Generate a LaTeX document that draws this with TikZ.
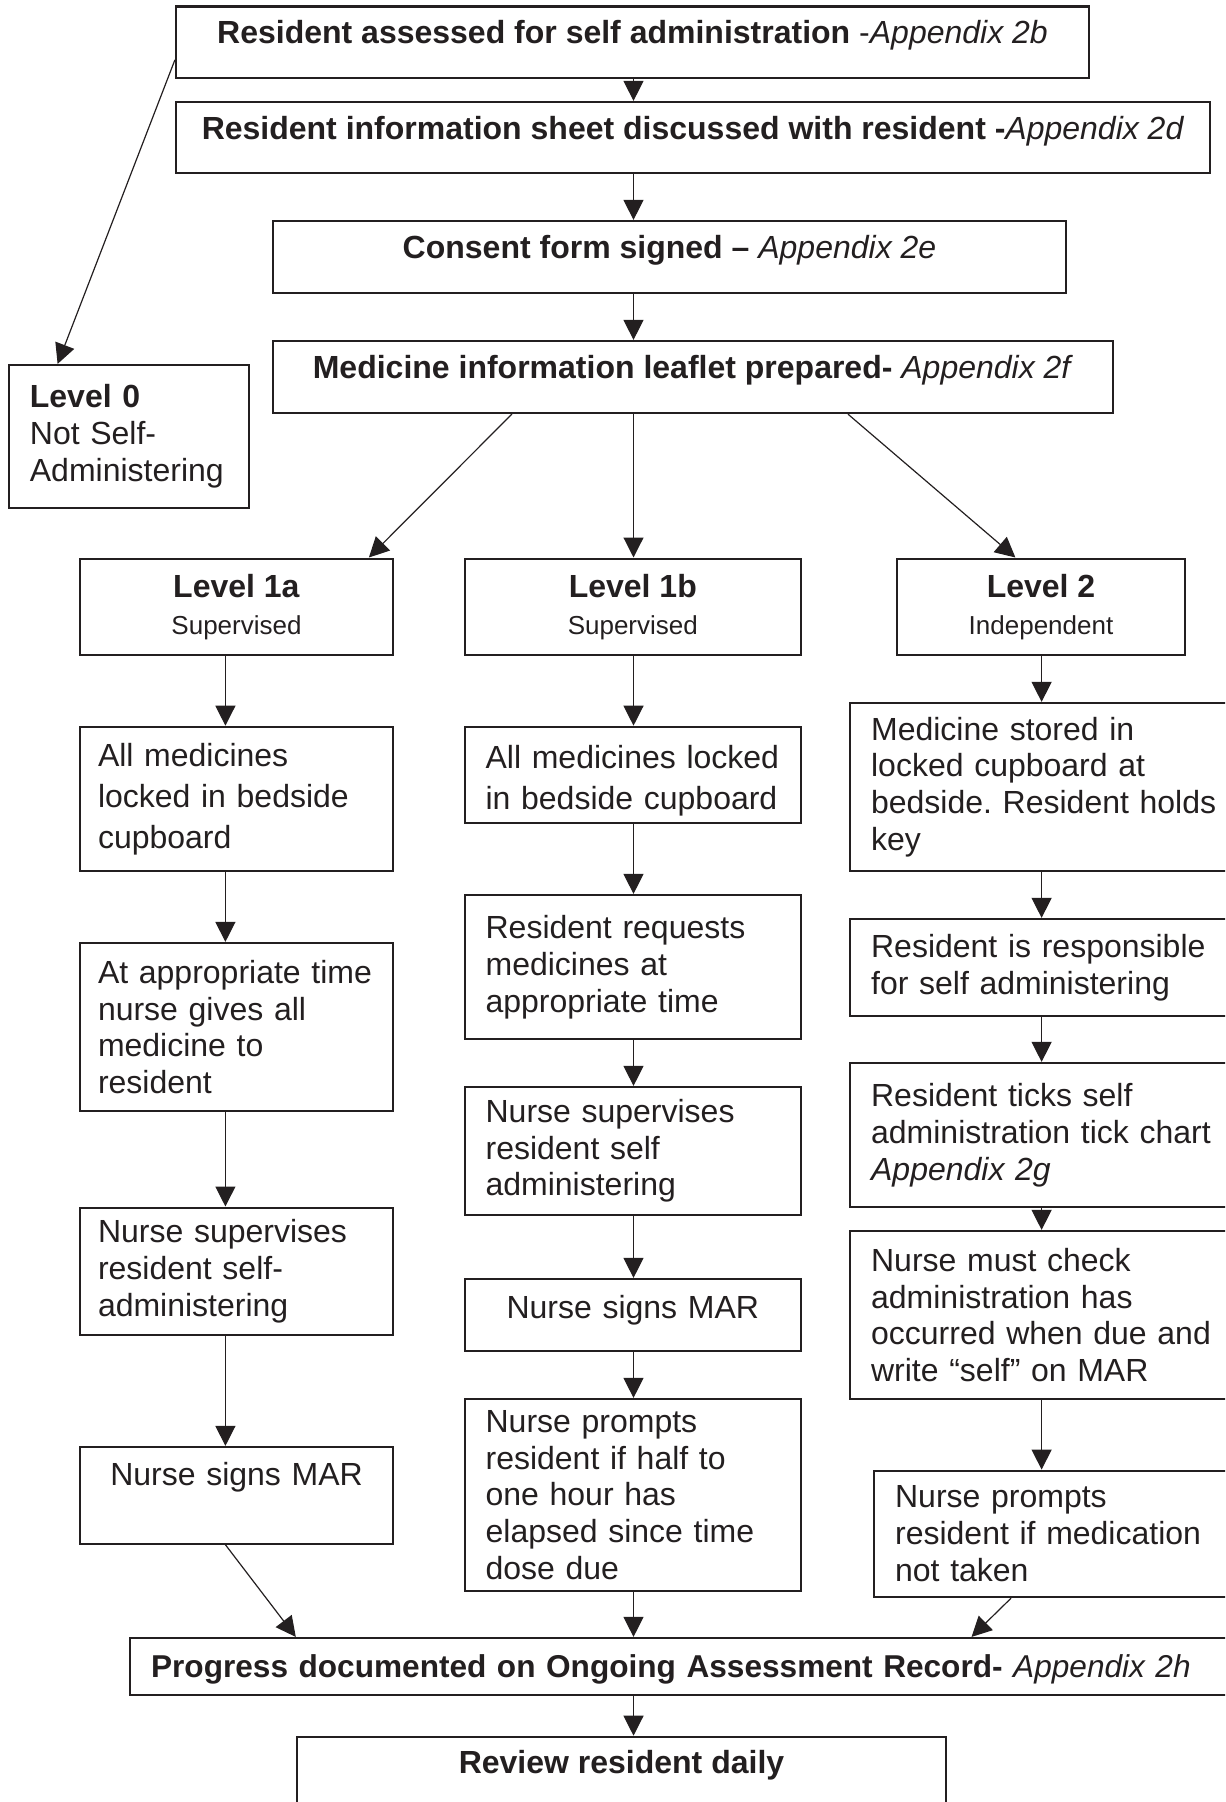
\documentclass[tikz,border=0pt]{standalone}
\usepackage{fontspec}
\setmainfont{Liberation Sans}
\usepackage{xcolor}
\usetikzlibrary{arrows.meta,positioning,calc}
\definecolor{inkgrey}{RGB}{35,31,32}
\newcommand{\levelsub}{\fontsize{13}{18.4}\selectfont}
\frenchspacing

\begin{document}
\begin{tikzpicture}[x=0.5pt, y=-0.5pt, font=\fontsize{16}{18.4}\selectfont,
	plainbox/.style={draw=inkgrey, line width=1.1pt, text=inkgrey, inner xsep=10.5pt, inner ysep=0pt},
	headbox/.style={plainbox, align=center, text height=11.7pt, text depth=10pt},
	levelbox/.style={plainbox, align=center, minimum height=48.2pt},
	stepbox/.style={plainbox, align=left},
	cola/.style={stepbox, text width=138.5pt, inner xsep=9pt},
	colb/.style={stepbox, text width=147.2pt},
	colc/.style={stepbox, text width=180pt, anchor=west},
	wide/.style={font=\fontsize{16}{20.5}\selectfont},
	arr/.style={draw=inkgrey, line width=0.6pt, -{Triangle[length=10pt,width=10pt]}}]

	\useasboundingbox (0,0) rectangle (1225,1802);
	\clip (0,0) rectangle (1225,1802);

	% arrow columns
	\coordinate (colA) at (225.4,0);
	\coordinate (colB) at (633.5,0);
	\coordinate (colC) at (1041.6,0);

	% top chain
	\node[headbox, minimum width=456.5pt, minimum height=35.7pt] (assess) at (632.5,42.3) {\textbf{Resident assessed for self administration} -\textit{Appendix 2b}};
	\node[headbox, minimum width=517pt, minimum height=35.5pt] (info) at (693,137.5) {\textbf{Resident information sheet discussed with resident -}\textit{Appendix 2d}};
	\node[headbox, minimum width=396.5pt, minimum height=36pt] (consent) at (669.5,257) {\textbf{Consent form signed –} \textit{Appendix 2e}};
	\node[headbox, minimum width=420pt, minimum height=36pt] (leaflet) at (693,377) {\textbf{Medicine information leaflet prepared-} \textit{Appendix 2f}};

	\draw[arr] (assess.south -| colB) -- (info.north -| colB);
	\draw[arr] (info.south -| colB) -- (consent.north -| colB);
	\draw[arr] (consent.south -| colB) -- (leaflet.north -| colB);

	% levels
	\node[stepbox, text width=99pt, minimum height=71.5pt] (lvlzero) at (128.9,436.5) {\textbf{Level 0}\\Not Self-\\Administering};
	\node[levelbox, minimum width=156.5pt] (lvlonea) at (236.5,606.8) {\textbf{Level 1a}\\{\levelsub Supervised}};
	\node[levelbox, minimum width=168.2pt] (lvloneb) at (632.8,606.8) {\textbf{Level 1b}\\{\levelsub Supervised}};
	\node[levelbox, minimum width=144pt] (lvltwo) at (1041,606.8) {\textbf{Level 2}\\{\levelsub Independent}};

	\draw[arr] ($(assess.north west)+(0,54.4)$) -- ($(lvlzero.north west)+(49.8,0)$);
	\draw[arr] ($(leaflet.south west)+(240,0)$) -- ($(lvlonea.north west)+(290,0)$);
	\draw[arr] (leaflet.south -| colB) -- (lvloneb.north -| colB);
	\draw[arr] ($(leaflet.south west)+(576,0)$) -- ($(lvltwo.north west)+(119.5,0)$);

	% column 1a
	\node[cola, wide, minimum height=72.1pt] (a1) at (236.5,798.9) {All medicines\\locked in bedside\\cupboard};
	\node[cola, minimum height=84pt] (a2) at (236.5,1027) {At appropriate time\\nurse gives all\\medicine to\\resident};
	\node[cola, minimum height=63.7pt] (a3) at (236.5,1271.3) {Nurse supervises\\resident self-\\administering};
	\node[cola, align=center, minimum height=48.3pt, text height=11.7pt, text depth=21.1pt] (a4) at (236.5,1495.3) {Nurse signs MAR};

	\draw[arr] (lvlonea.south -| colA) -- (a1.north -| colA);
	\draw[arr] (a1.south -| colA) -- (a2.north -| colA);
	\draw[arr] (a2.south -| colA) -- (a3.north -| colA);
	\draw[arr] (a3.south -| colA) -- (a4.north -| colA);

	% column 1b
	\node[colb, wide, minimum height=48.1pt, text height=17.7pt] (b1) at (632.8,774.9) {All medicines locked\\in bedside cupboard};
	\node[colb, minimum height=72pt] (b2) at (632.8,967) {Resident requests\\medicines at\\appropriate time};
	\node[colb, minimum height=63.9pt] (b3) at (632.8,1150.9) {Nurse supervises\\resident self\\administering};
	\node[colb, align=center, minimum height=36pt, text height=11.7pt, text depth=8.7pt] (b4) at (632.8,1315) {Nurse signs MAR};
	\node[colb, minimum height=96pt] (b5) at (632.8,1495) {Nurse prompts\\resident if half to\\one hour has\\elapsed since time\\dose due};

	\draw[arr] (lvloneb.south -| colB) -- (b1.north -| colB);
	\draw[arr] (b1.south -| colB) -- (b2.north -| colB);
	\draw[arr] (b2.south -| colB) -- (b3.north -| colB);
	\draw[arr] (b3.south -| colB) -- (b4.north -| colB);
	\draw[arr] (b4.south -| colB) -- (b5.north -| colB);

	% column 2
	\node[colc, minimum height=84pt] (c1) at (849,787) {Medicine stored in\\locked cupboard at\\bedside. Resident holds\\key};
	\node[colc, minimum height=48.4pt] (c2) at (849,967.4) {Resident is responsible\\for self administering};
	\node[colc, minimum height=72pt] (c3) at (849,1135) {Resident ticks self\\administration tick chart\\\textit{Appendix 2g}};
	\node[colc, minimum height=84pt] (c4) at (849,1315) {Nurse must check\\administration has\\occurred when due and\\write “self” on MAR};
	\node[colc, minimum height=63.2pt] (c5) at (873,1533.9) {Nurse prompts\\resident if medication\\not taken};

	\draw[arr] (lvltwo.south -| colC) -- (c1.north -| colC);
	\draw[arr] (c1.south -| colC) -- (c2.north -| colC);
	\draw[arr] (c2.south -| colC) -- (c3.north -| colC);
	\draw[arr] (c3.south -| colC) -- (c4.north -| colC);
	\draw[arr] (c4.south -| colC) -- (c5.north -| colC);

	% bottom
	\node[stepbox, anchor=west, text width=535pt, inner xsep=10.75pt, minimum height=28.5pt, text height=11.7pt, text depth=0.7pt, font=\fontsize{15.8}{18.4}\selectfont] (progress) at (128.5,1666.5) {\textbf{Progress documented on Ongoing Assessment Record-} \textit{Appendix 2h}};
	\node[plainbox, align=center, anchor=north, minimum width=324.5pt, minimum height=60pt, text height=11.7pt, text depth=35.4pt] (review) at (621.5,1735.7) {\textbf{Review resident daily}};

	\draw[arr] (a4.south -| colA) -- ($(progress.north west)+(167.3,0)$);
	\draw[arr] (b5.south -| colB) -- (progress.north -| colB);
	\draw[arr] ($(c5.south west)+(138,0)$) -- ($(progress.north west)+(843,0)$);
	\draw[arr] (progress.south -| colB) -- (review.north -| colB);
\end{tikzpicture}
\end{document}
